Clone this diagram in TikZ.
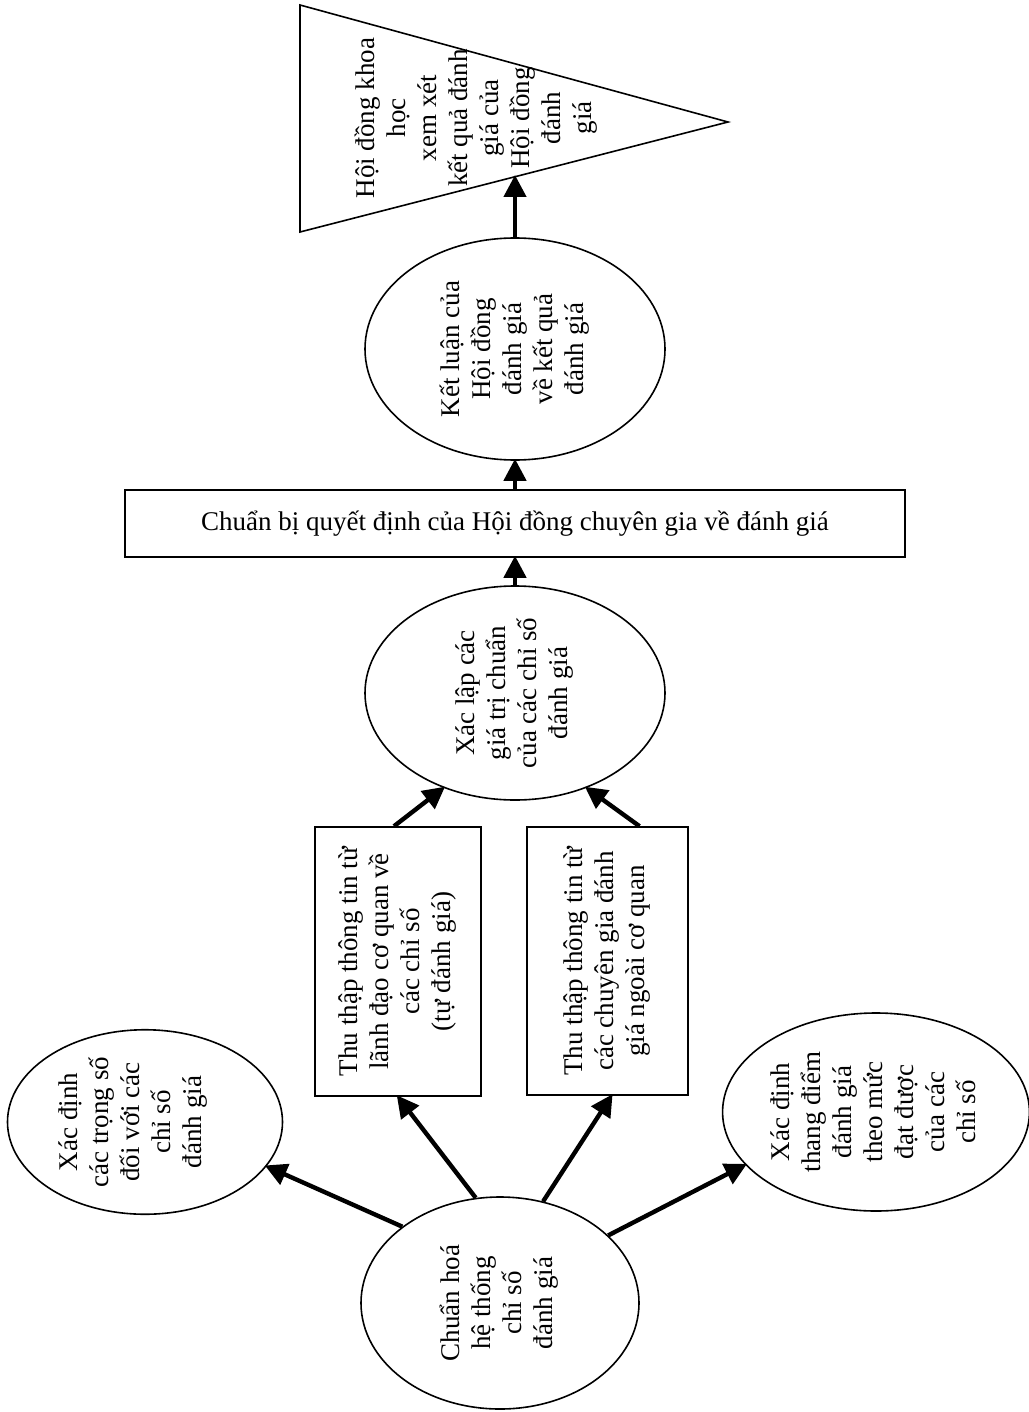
\documentclass[tikz,border=0pt]{standalone}
\usepackage{fontspec}
\setmainfont{Liberation Serif}
\usepackage{graphicx}
\usetikzlibrary{shapes.geometric,arrows.meta}
\newcommand{\rtext}[1]{\rotatebox{90}{\begin{tabular}{@{}c@{}}#1\end{tabular}}}
\begin{document}
\begin{tikzpicture}[x=0.5pt,y=-0.5pt,
  every node/.style={font=\fontsize{13.5}{15.5}\selectfont, inner sep=0pt},
  oval/.style={draw, ellipse, line width=0.8pt},
  box/.style={draw, rectangle, line width=0.8pt},
  arr/.style={line width=2.2pt, -{Triangle[length=11pt,width=11pt]}, shorten >=-1pt}
]
\useasboundingbox (0,0) rectangle (1028,1412);

% triangle
\draw[line width=0.8pt] (300,5) -- (728,122) -- (300,232) -- cycle;
\node (tri) at (477,118) {\rtext{Hội đồng khoa\\học\\xem xét\\kết quả đánh\\giá của\\Hội đồng\\đánh\\giá}};
\coordinate (triedge) at (515,177);

% ellipses and boxes
\node[oval, minimum width=150pt, minimum height=111pt] (e4) at (515,349)
  {\rtext{Kết luận của\\Hội đồng\\đánh giá\\về kết quả\\đánh giá}};
\node[box, minimum width=390pt, minimum height=33.5pt] (top) at (515,523.5)
  {\raisebox{3pt}{Chuẩn bị quyết định của Hội đồng chuyên gia về đánh giá}};
\node[oval, minimum width=150pt, minimum height=107pt] (e3) at (515,693)
  {\rtext{Xác lập các\\giá trị chuẩn\\của các chỉ số\\đánh giá}};
\node[box, minimum width=83pt, minimum height=134.5pt] (r1) at (398,961.5)
  {\rtext{Thu thập thông tin từ\\lãnh đạo cơ quan về\\các chỉ số\\(tự đánh giá)}};
\node[box, minimum width=80.5pt, minimum height=134pt] (r2) at (607.5,961)
  {\rtext{Thu thập thông tin từ\\các chuyên gia đánh\\giá ngoài cơ quan}};
\node[oval, minimum width=139pt, minimum height=106pt] (chuan) at (500,1303)
  {\rtext{Chuẩn hoá\\hệ thống\\chỉ số\\đánh giá}};
\node[oval, minimum width=137.5pt, minimum height=91pt] (xdl) at (145,1122)
  {\hspace*{-12pt}\rtext{Xác định\\các trọng số\\đối với các\\chỉ số\\đánh giá}};
\node[oval, minimum width=151pt, minimum height=99pt] (xdr) at (876,1112)
  {\rtext{Xác định\\thang điểm\\đánh giá\\theo mức\\đạt được\\của các\\chỉ số}};

% connectors
\draw[arr] (chuan.142) -- (xdl.340);
\draw[arr] (chuan.103) -- (r1.south);
\draw[arr] (chuan.67) -- ([xshift=2pt]r2.south);
\draw[arr] (chuan.32) -- (xdr.202);
\draw[arr] ([xshift=-2pt]r1.north) -- (e3.233);
\draw[arr] ([xshift=16pt]r2.north) -- (e3.307);
\draw[arr] (e3.north) -- (e3.north |- top.south);
\draw[arr] (e4.south |- top.north) -- (e4.south);
\draw[arr] (e4.north) -- (triedge);
\end{tikzpicture}
\end{document}
